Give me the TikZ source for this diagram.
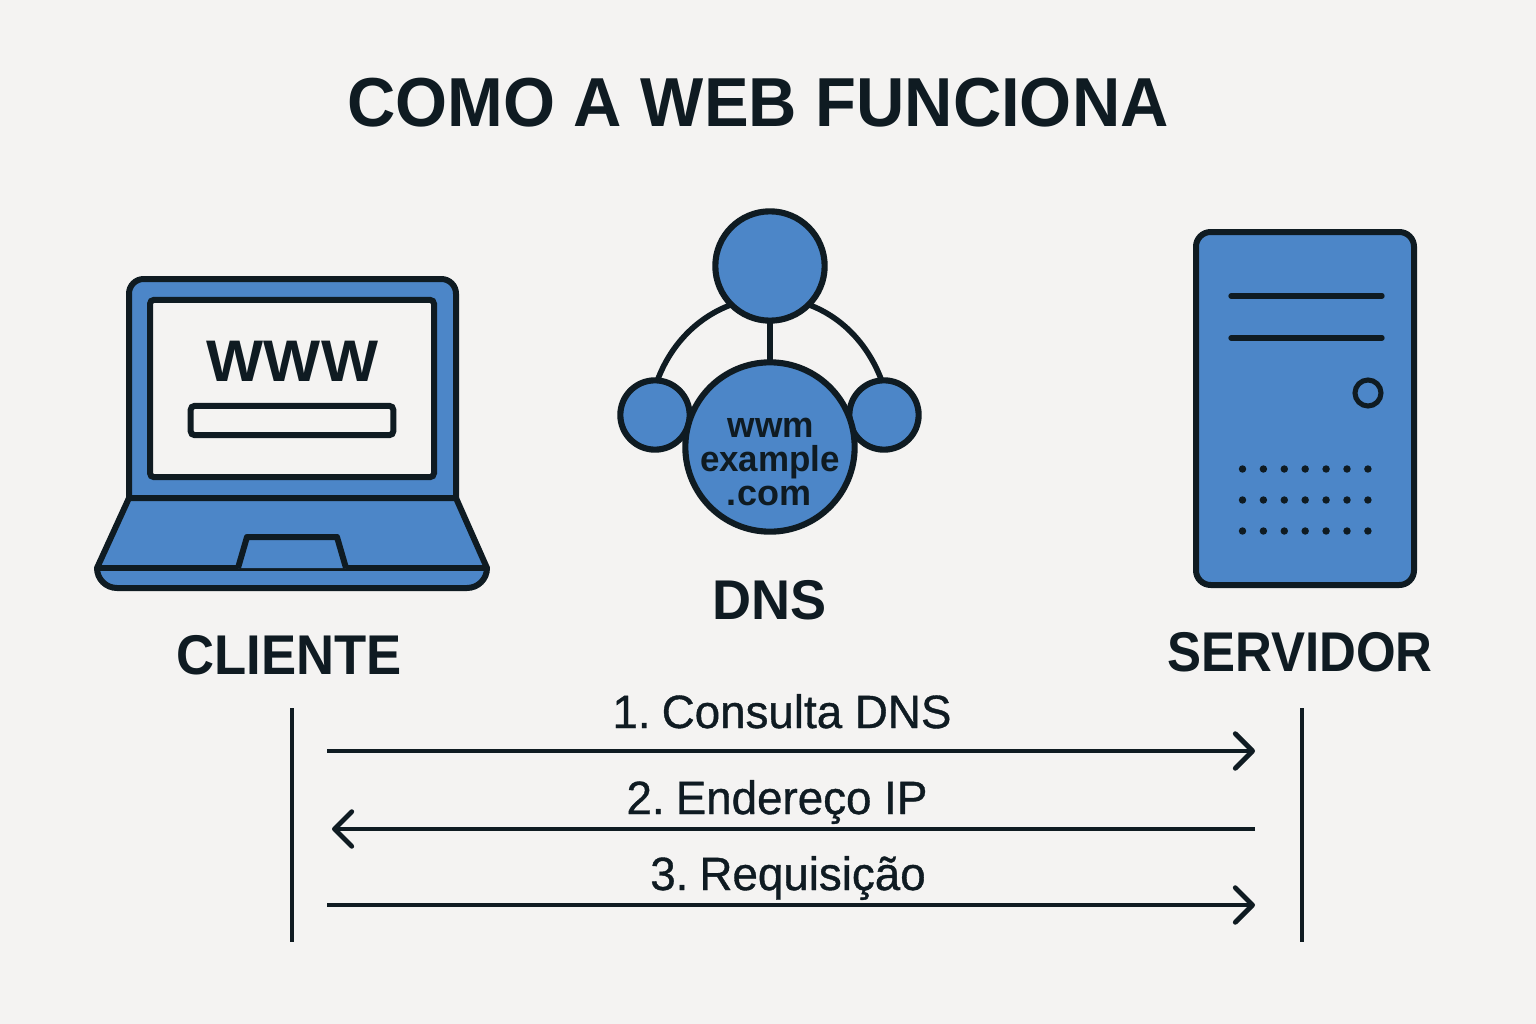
\documentclass[tikz,border=0pt]{standalone}
\usepackage{fontspec}
\setmainfont{Liberation Sans}
\newfontfamily\msgfont[FakeBold=0.8]{Liberation Sans}
\usetikzlibrary{arrows.meta}
\definecolor{bg}{HTML}{F4F3F2}
\definecolor{blue1}{HTML}{4C86C8}
\definecolor{ink}{HTML}{0F1B22}
\newcommand{\fs}[1]{\fontsize{#1}{#1}\selectfont}
\newcommand{\sq}[2]{\scalebox{#1}[1]{#2}}
\newcommand{\numsp}[1]{{\spaceskip=0.15em\relax #1 }}
\tikzset{
  x=0.75pt,y=-0.75pt,
  icon/.style={draw=ink,line width=4.5pt,fill=blue1,line join=round},
  panel/.style={draw=ink,line width=4.5pt,fill=bg,rounded corners=3pt},
  link/.style={draw=ink,line width=4.2pt},
  ball/.style={circle,draw=ink,line width=4.6pt,fill=blue1,outer sep=0pt,inner sep=0pt},
  dot/.style={circle,fill=ink,minimum size=5.6pt,inner sep=0pt},
  title/.style={anchor=base,text=ink,font=\fs{52}\bfseries},
  head/.style={anchor=base,text=ink,font=\fs{42}\bfseries},
  msg/.style={anchor=base,text=ink,font=\fs{35}\msgfont},
  life/.style={draw=ink,line width=3.2pt},
  flow/.style={draw=ink,line width=3.4pt,-{Straight Barb[length=13pt,width=26pt,line width=3.6pt,round]}},
}
\begin{document}
\begin{tikzpicture}
\fill[bg] (0,0) rectangle (1536,1024);
\useasboundingbox (0,0) rectangle (1536,1024);
\node[title] (ttl) at (758,127) {\sq{0.965}{COMO A WEB FUNCIONA}};
% laptop
\draw[icon,rounded corners=11pt] (129,498) -- (129,279) -- (456,279) -- (456,498);
\draw[icon] (129,498) -- (456,498) -- (487,568) to[out=-90,in=0] (467,588) -- (117,588) to[out=180,in=-90] (97,568) -- cycle;
\draw[icon] (97,568) -- (487,568);
\draw[icon] (238,568) -- (247,537) -- (337,537) -- (346,568);
\node[panel,minimum width=213pt,minimum height=133pt,outer sep=0pt,inner sep=0pt] (screen) at (292,388.5) {};
\node[panel,minimum width=152pt,minimum height=22pt,outer sep=0pt,inner sep=0pt] (bar) at (292,420.5) {};
\node[anchor=base,text=ink,font=\fs{44}\bfseries] (www) at (292.5,381) {\sq{1.03}{WWW}};
\node[head] (cl) at (289,674) {\sq{0.94}{CLIENTE}};
% DNS
\node[ball,minimum size=82pt] (top) at (770,266) {};
\node[ball,minimum size=52pt] (lft) at (655,415) {};
\node[ball,minimum size=52pt] (rgt) at (884,415) {};
\node[ball,minimum size=127pt] (mid) at (770,447) {};
\draw[link,looseness=0.9] (top.225) to[out=200.4,in=69.6] (lft.86);
\draw[link,looseness=0.9] (top.-45) to[out=-20.4,in=110.4] (rgt.94);
\draw[link] (top.south) -- (mid.north);
\node[anchor=base,text=ink,font=\fs{27}\bfseries] (t1) at (771,437) {\sq{0.98}{wwm}};
\node[anchor=base,text=ink,font=\fs{27}\bfseries] (t2) at (770,471) {\sq{0.97}{example}};
\node[anchor=base,text=ink,font=\fs{27}\bfseries] (t3) at (769,505) {.com};
\node[head] (dn) at (770,619) {\sq{0.965}{DNS}};
% server
\draw[icon,rounded corners=11pt] (1196,232) rectangle (1414,585);
\draw[ink,line width=4pt,line cap=round] (1231,296) -- (1382,296) (1231,338) -- (1382,338);
\node[circle,draw=ink,line width=3.8pt,minimum size=19.5pt,inner sep=0pt] (knob) at (1368,393) {};
\foreach \y in {469,500,531} \foreach \x in {0,...,6} \node[dot] (d\x\y) at (1242.5+\x*20.9,\y) {};
\node[head] (sv) at (1300,671.5) {\sq{0.91}{SERVIDOR}};
% sequence
\coordinate (lt) at (292,708); \coordinate (lb) at (292,942);
\coordinate (rt) at (1302,708); \coordinate (rb) at (1302,942);
\draw[life] (lt) -- (lb);
\draw[life] (rt) -- (rb);
\coordinate (a1) at (327,751); \coordinate (b1) at (1255,751);
\coordinate (a2) at (332,829); \coordinate (b2) at (1255,829);
\coordinate (a3) at (327,905); \coordinate (b3) at (1255,905);
\draw[flow] (a1) -- (b1);
\draw[flow] (b2) -- (a2);
\draw[flow] (a3) -- (b3);
\node[msg] (m1) at (782,728) {\sq{0.98}{\numsp{1.}Consulta DNS}};
\node[msg] (m2) at (777,814) {\sq{0.98}{\numsp{2.}Endereço IP}};
\node[msg] (m3) at (788,890) {\sq{0.98}{\numsp{3.}Requisição}};
\end{tikzpicture}
\end{document}
